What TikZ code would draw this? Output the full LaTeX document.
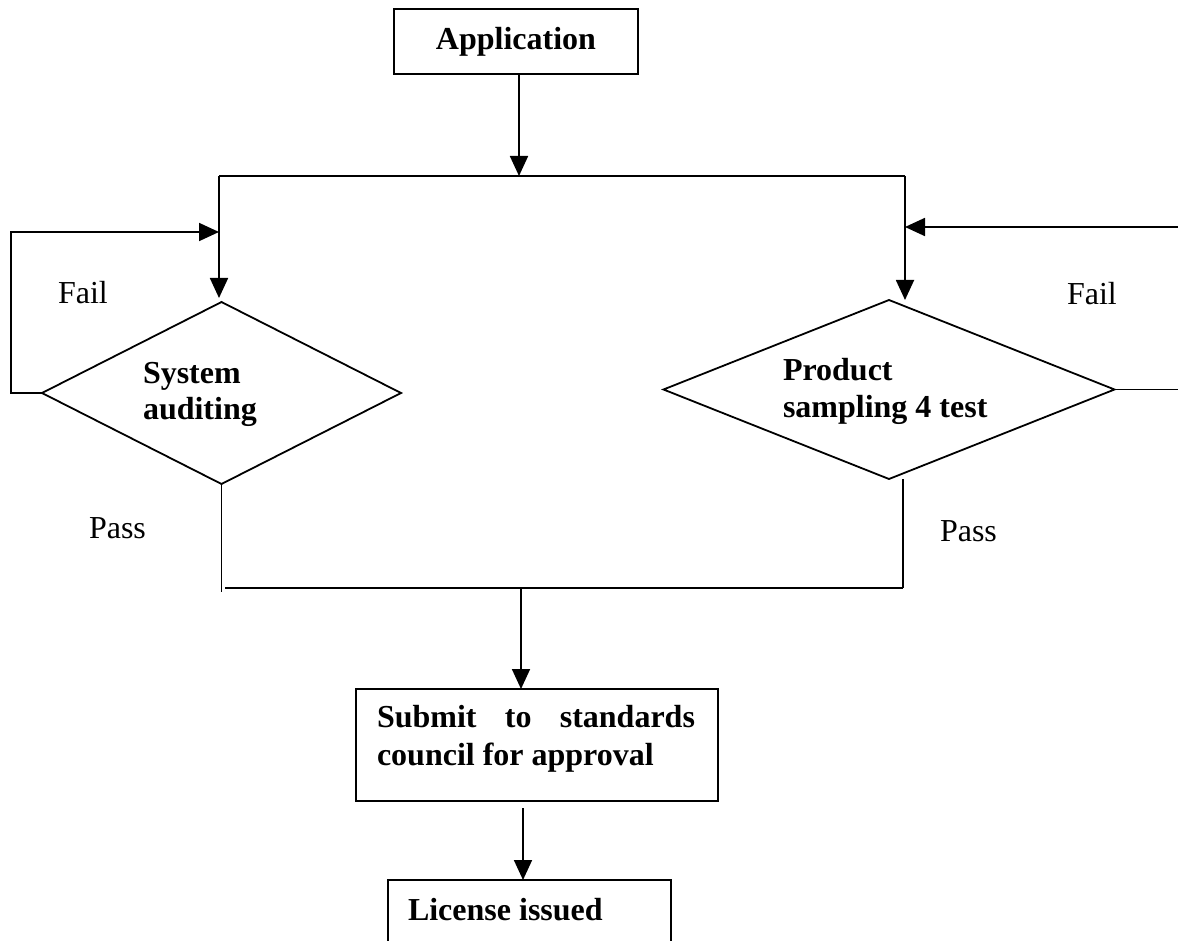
\documentclass[tikz,border=0pt]{standalone}
\usepackage{fontspec}
\setmainfont{Liberation Serif}
\usetikzlibrary{shapes.geometric,arrows.meta}

\begin{document}
\begin{tikzpicture}[x=1pt,y=-1pt,
  line width=1.8pt,
  every node/.style={inner sep=0pt, outer sep=0pt},
  frame/.style={draw, rectangle, line width=1.8pt},
  decision/.style={draw, diamond, line width=1.8pt},
  arr/.style={-{Triangle[length=20pt,width=18pt]}},
  lbl/.style={font=\fontsize{32}{38}\selectfont, anchor=base west},
  blbl/.style={font=\fontsize{32}{38}\selectfont\bfseries, anchor=base west}]

\useasboundingbox (0,0) rectangle (1178,941);
\clip (0,0) rectangle (1178,941);

% boxes and decisions
\node[frame, minimum width=244pt, minimum height=65pt,
      font=\fontsize{32}{38}\selectfont\bfseries] (app) at (516,41.5) {Application};
\node[decision, minimum width=359pt, minimum height=182pt] (sa) at (221.5,393) {};
\node[decision, minimum width=451pt, minimum height=179pt] (pd) at (889,389.5) {};
\node[frame, minimum width=362pt, minimum height=112pt] (sub) at (537,745) {};
\node[frame, minimum width=283pt, minimum height=130pt] (lic) at (529.5,945) {};

% texts
\node[blbl] (satxt) at (143,383) {\vtop{\baselineskip=36pt\hbox{System}\hbox{auditing}}};
\node[blbl] (pdtxt) at (783,380) {\vtop{\baselineskip=37pt\hbox{Product}\hbox{sampling 4 test}}};
\node[blbl] (subtxt) at (377,727) {\vtop{\baselineskip=38pt
      \hbox to 318pt{Submit\hfill to\hfill standards}\hbox{council for approval}}};
\node[blbl] (lictxt) at (408,920) {License issued};
\node[lbl] (faill) at (58,304) {Fail};
\node[lbl] (failr) at (1067,305) {Fail};
\node[lbl] (passl) at (89,538) {Pass};
\node[lbl] (passr) at (940,541) {Pass};

% junction points
\coordinate (split) at (519,176);
\coordinate (tl) at (219,176);
\coordinate (tr) at (905,176);
\coordinate (lin) at (219,232);
\coordinate (lout) at (11,393);
\coordinate (rout) at (1192,390);
\coordinate (rin) at (905,227);
\coordinate (bl) at (221,592);
\coordinate (jl) at (225,588);
\coordinate (jr) at (903,588);
\coordinate (jm) at (521,588);
\coordinate (sbot) at (523,801);

% connectors
\draw[arr] (split |- app.south) -- (split);
\draw (tl) -- (tr);
\draw[arr, shorten >=4pt] (tl) -- (tl |- sa.north);
\draw[arr] (tr) -- (tr |- pd.north);
\draw[arr] (sa.west) -- (lout) |- (lin);
\draw[arr] (pd.east) -- (pd.east -| rout) |- (rin);
\draw (sa.south) -- (sa.south |- bl);
\draw (jr |- pd.south) -- (jr);
\draw (jl) -- (jr);
\draw[arr] (jm) -- (jm |- sub.north);
\draw[arr, shorten <=7pt] (sbot) -- (sbot |- lic.north);
\end{tikzpicture}
\end{document}
